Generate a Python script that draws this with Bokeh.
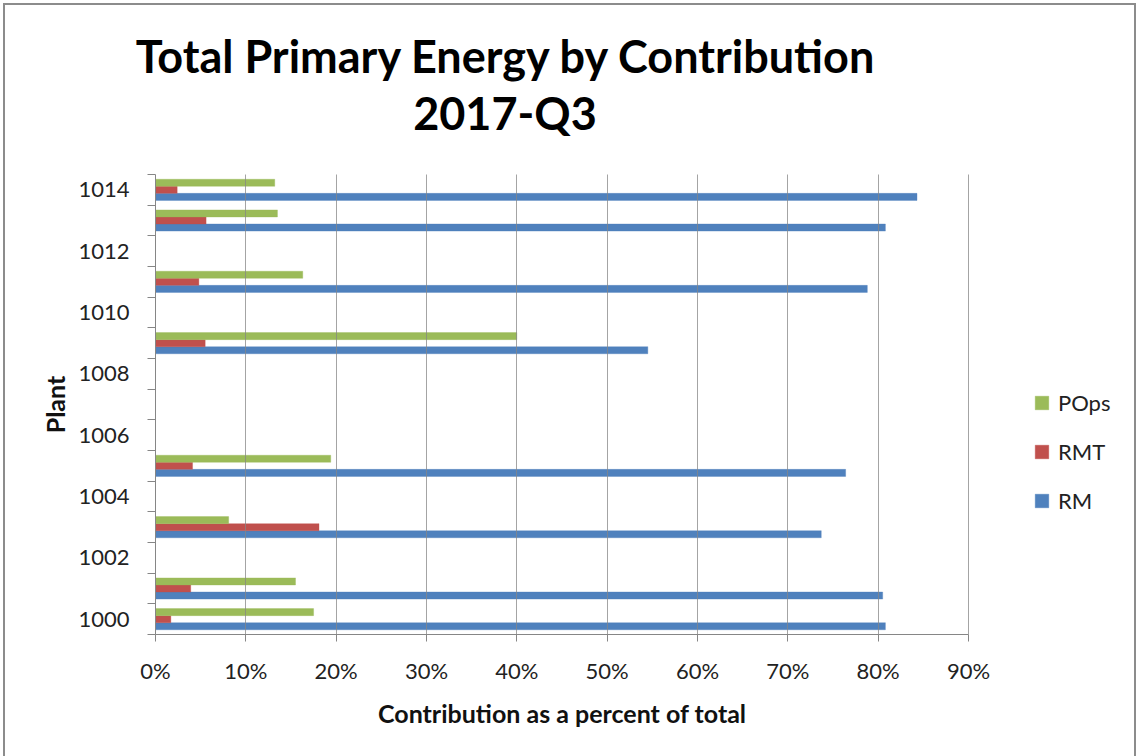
from bokeh.embed import file_html
from bokeh.layouts import column
from bokeh.models import (ColumnDataSource, Div, FixedTicker, Legend,
                          LegendItem, NumeralTickFormatter, Range1d, Title)
from bokeh.plotting import figure
from bokeh.resources import INLINE

# Plants reporting in 2017-Q3 and each contribution's share of total primary energy (%)
plants = [1000, 1001, 1003, 1005, 1009, 1011, 1013, 1014]
rm = [80.8, 80.5, 73.7, 76.4, 54.5, 78.8, 80.8, 84.3]
rmt = [1.7, 3.9, 18.1, 4.1, 5.5, 4.8, 5.6, 2.4]
pops = [17.5, 15.5, 8.1, 19.4, 40.0, 16.3, 13.5, 13.2]

plant_ticks = [1000, 1002, 1004, 1006, 1008, 1010, 1012, 1014]
pct_ticks = [0, 10, 20, 30, 40, 50, 60, 70, 80, 90]

title_lines = ["Total Primary Energy by Contribution", "2017-Q3"]
x_title = "Contribution as a percent of total"
y_title = "Plant"

BLUE = "#4F81BD"
RED = "#C0504D"
GREEN = "#9BBB59"
GRID = "#868686"
TEXT = "#222222"
FONT = "Lato"

# page geometry (px)
PAGE_W, PAGE_H = 1138, 756
EDGE = 5                                  # border + margin around the chart
CW = PAGE_W - 2 * EDGE + 1                # chart content width
HEAD_H = 174 - EDGE                       # title strip height
BODY_H = PAGE_H - 174                     # plot strip height
FL, FB = 155 - EDGE, 460                  # plot-area left / bottom inside the plot strip
PX_PER_UNIT = (968 - 155) / 0.9           # pixels per 100 % on the value axis
X_MAX = pct_ticks[-1] / 100
X_RIGHT = (CW - FL) / PX_PER_UNIT         # value at the right edge of the strip
Y0, Y1 = min(plants) - 0.5, max(plant_ticks) + 0.5

BAR_H = 0.23
src = ColumnDataSource(dict(
    plant=plants,
    rm=[v / 100 for v in rm],
    rmt=[v / 100 for v in rmt],
    pops=[v / 100 for v in pops],
    y_rm=[p - BAR_H for p in plants],
    y_rmt=[p for p in plants],
    y_pops=[p + BAR_H for p in plants],
))

# ---- title strip ----
TITLE_CX = 505 - EDGE                     # horizontal centre of the title lines
line_tops = [29, 86]
lines_html = "".join(
    f'<div style="position:absolute;left:0;top:{top}px;width:{2 * TITLE_CX}px;'
    f'text-align:center;font-family:{FONT};font-weight:bold;font-size:45px;'
    f'line-height:45px;color:#000;white-space:nowrap;">{text}</div>'
    for text, top in zip(title_lines, line_tops))
head = Div(text=f'<div style="position:relative;width:{CW}px;height:{HEAD_H}px;">'
                f'{lines_html}</div>',
           width=CW, height=HEAD_H, margin=0)

# ---- plot strip ----
p = figure(width=CW, height=BODY_H, output_backend="svg", toolbar_location=None,
           title=None, x_range=Range1d(0, X_RIGHT), y_range=Range1d(Y0, Y1),
           min_border_left=FL, min_border_right=0,
           min_border_top=0, min_border_bottom=BODY_H - FB)
p.outline_line_color = None

r_rm = p.hbar(y="y_rm", right="rm", left=0, height=BAR_H, source=src,
              fill_color=BLUE, line_color=BLUE, line_alpha=0.35, line_width=1)
r_rmt = p.hbar(y="y_rmt", right="rmt", left=0, height=BAR_H, source=src,
               fill_color=RED, line_color=RED, line_alpha=0.35, line_width=1)
r_pops = p.hbar(y="y_pops", right="pops", left=0, height=BAR_H, source=src,
                fill_color=GREEN, line_color=GREEN, line_alpha=0.35, line_width=1)

# value axis
p.xaxis.ticker = FixedTicker(ticks=[t / 100 for t in pct_ticks])
p.xaxis.formatter = NumeralTickFormatter(format="0%")
p.xaxis.bounds = (0, X_MAX)
p.xaxis.axis_line_color = GRID
p.xaxis.major_tick_line_color = GRID
p.xaxis.major_tick_out = 7
p.xaxis.major_tick_in = 0
p.xaxis.minor_tick_line_color = None
p.xaxis.major_label_standoff = 15
p.xaxis.major_label_text_font = FONT
p.xaxis.major_label_text_font_size = "22px"
p.xaxis.major_label_text_color = TEXT

# value-axis title, centred under the 0-90 % span
x_title_px = 368                          # rendered width of the title text
p.add_layout(Title(text=x_title, align="left",
                   offset=(968 - 155) / 2 - x_title_px / 2,
                   vertical_align="top", standoff=22,
                   text_font=FONT, text_font_style="bold",
                   text_font_size="25px", text_color="#111111"), "below")

# plant axis: labels on every other plant, tick marks on category boundaries
p.yaxis.ticker = FixedTicker(ticks=plant_ticks,
                             minor_ticks=[Y0 + i for i in range(int(Y1 - Y0) + 1)])
p.yaxis.axis_line_color = GRID
p.yaxis.major_tick_line_color = None
p.yaxis.major_tick_out = 0
p.yaxis.major_tick_in = 0
p.yaxis.minor_tick_line_color = GRID
p.yaxis.minor_tick_out = 8
p.yaxis.minor_tick_in = 0
p.yaxis.major_label_standoff = 18
p.yaxis.major_label_text_font = FONT
p.yaxis.major_label_text_font_size = "22px"
p.yaxis.major_label_text_color = TEXT
p.yaxis.axis_label = y_title
p.yaxis.axis_label_text_font = FONT
p.yaxis.axis_label_text_font_style = "bold"
p.yaxis.axis_label_text_font_size = "25px"
p.yaxis.axis_label_text_color = "#111111"
p.yaxis.axis_label_standoff = 5

p.ygrid.grid_line_color = None
p.xgrid.grid_line_color = GRID
p.xgrid.grid_line_alpha = 0.75
p.xgrid.level = "overlay"

legend = Legend(items=[LegendItem(label="POps", renderers=[r_pops]),
                       LegendItem(label="RMT", renderers=[r_rmt]),
                       LegendItem(label="RM", renderers=[r_rm])],
                location=(878, 120), orientation="vertical",
                glyph_width=17, glyph_height=17, label_standoff=8,
                spacing=22, padding=0, margin=0,
                border_line_color=None, background_fill_alpha=0,
                label_text_font=FONT, label_text_font_size="22px",
                label_text_color=TEXT)
p.add_layout(legend, "center")

chart = column(head, p, spacing=0,
               styles={"border": "2px solid #8c8c8c", "border-bottom": "none",
                       "margin-left": "3px", "margin-top": "3px"})

open("out.html", "w").write(file_html(chart, INLINE))
